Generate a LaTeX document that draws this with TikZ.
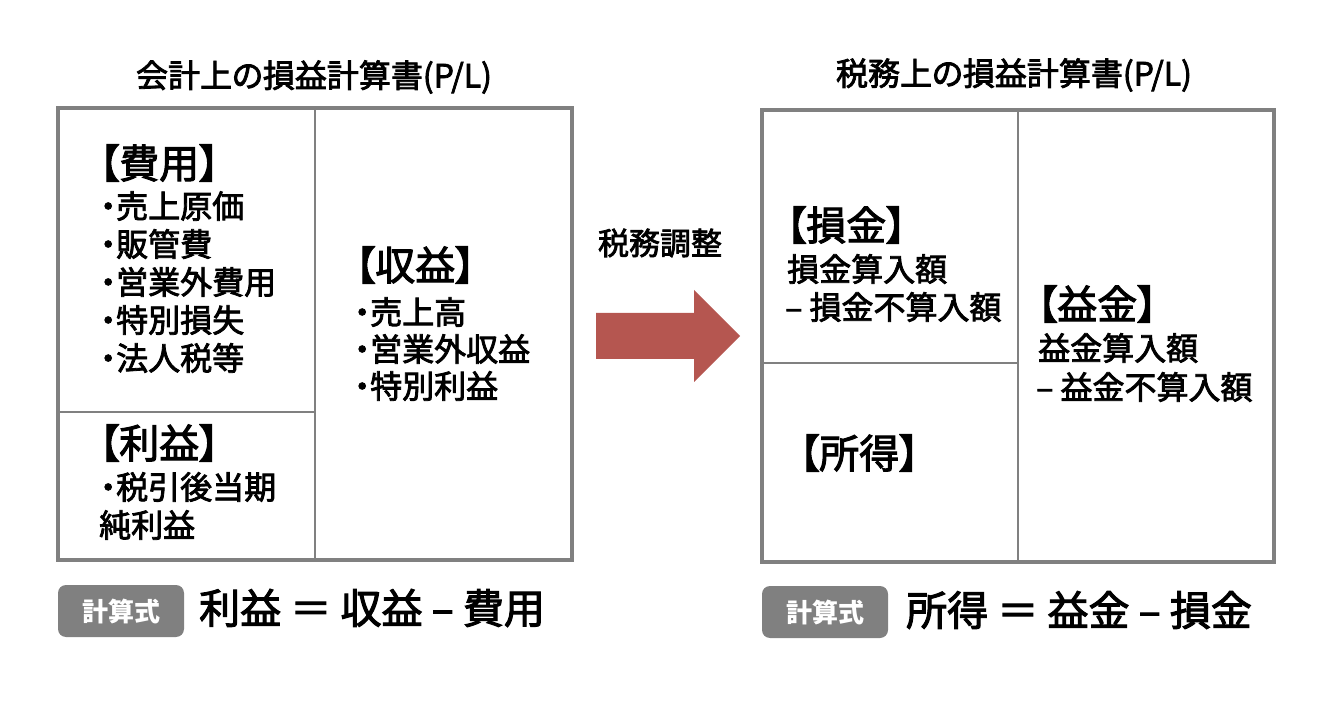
\documentclass[tikz,border=0pt]{standalone}
\usepackage{fontspec}
\setmainfont{Noto Sans CJK JP}[RawFeature=+palt]
\newfontfamily\plfont{Noto Sans CJK JP}[RawFeature=+palt, FakeBold=2.5]
\definecolor{linegray}{RGB}{128,128,128}
\definecolor{arrowred}{RGB}{181,86,80}
\tikzset{
  pltitle/.style={font=\plfont\fontsize{32}{32}\selectfont, inner sep=0pt},
  plhead/.style={anchor=west, font=\plfont\fontsize{40}{40}\selectfont, inner sep=0pt},
  plitem/.style={anchor=west, font=\plfont\fontsize{32}{32}\selectfont, inner sep=0pt},
  formula/.style={anchor=west, font=\plfont\fontsize{41}{41}\selectfont, inner sep=0pt},
  badge/.style={fill=linegray, rounded corners=8pt, text=white, font=\bfseries\fontsize{26}{26}\selectfont,
    minimum width=126pt, minimum height=52pt, inner sep=0pt},
  outerbox/.style={draw=linegray, line width=3.5pt},
  divider/.style={draw=linegray, line width=2pt}
}
\begin{document}
\begin{tikzpicture}[x=1pt,y=-1pt]
    \useasboundingbox (0,0) rectangle (1334,708);

    % Corners of the two statements
    \coordinate (LA) at (58,108);
    \coordinate (LB) at (572,560);
    \coordinate (RA) at (762,110);
    \coordinate (RB) at (1274,562);

    % Accounting P/L
    \node[pltitle] (titleL) at (314,77) {会計上の損益計算書(P/L)};
    \draw[outerbox] (LA) rectangle (LB);
    \draw[divider] (315,108) -- (315,560);
    \draw[divider] (58,412) -- (315,412);

    \node[plhead] (cost) at (99,163) {【費用】};
    \foreach \t [count=\i] in {売上原価,販管費,営業外費用,特別損失,法人税等}
        \node[plitem] (cost-\i) at (100,{206+38*(\i-1)}) {・\t};

    \node[plhead] (revenue) at (355,265) {【収益】};
    \foreach \t [count=\i] in {売上高,営業外収益,特別利益}
        \node[plitem] (revenue-\i) at (354,{312+37*(\i-1)}) {・\t};

    \node[plhead] (profit) at (99,443) {【利益】};
    \node[plitem] (profit-1) at (100,487) {・税引後当期};
    \node[plitem] (profit-2) at (99,525) {純利益};

    \node[badge] (calcL) at (121,611) {計算式};
    \node[formula] (eqL) at (199,608) {利益 ＝ 収益 – 費用};

    % Tax adjustment arrow
    \node[plitem, anchor=center, font=\plfont\fontsize{31}{31}\selectfont] (adjust) at (660,243) {税務調整};
    \fill[arrowred] (596,313) -- (694,313) -- (694,290) -- (740,336)
        -- (694,382) -- (694,359) -- (596,359) -- cycle;

    % Tax P/L
    \node[pltitle] (titleR) at (1014,75) {税務上の損益計算書(P/L)};
    \draw[outerbox] (RA) rectangle (RB);
    \draw[divider] (1018,110) -- (1018,562);
    \draw[divider] (762,363) -- (1018,363);

    \node[plhead] (loss) at (786,225) {【損金】};
    \node[plitem] (loss-1) at (787,269) {損金算入額};
    \node[plitem] (loss-2) at (785,307) {– 損金不算入額};

    \node[plhead] (gain) at (1037,304) {【益金】};
    \node[plitem] (gain-1) at (1038,348) {益金算入額};
    \node[plitem] (gain-2) at (1036,387) {– 益金不算入額};

    \node[plhead] (income) at (799,453) {【所得】};

    \node[badge] (calcR) at (825,612) {計算式};
    \node[formula] (eqR) at (906,610) {所得 ＝ 益金 – 損金};

\end{tikzpicture}
\end{document}
